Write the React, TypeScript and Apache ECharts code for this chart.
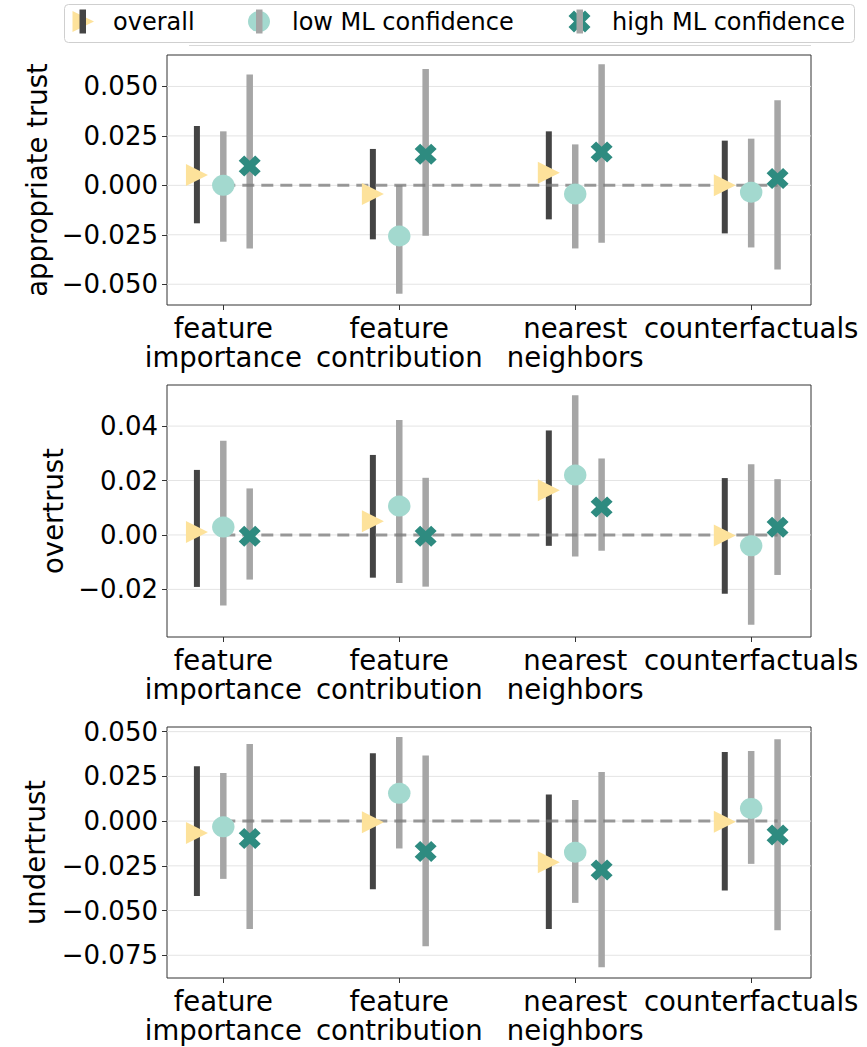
import React, { useEffect, useRef } from "react";
import * as echarts from "echarts";

// ---------- data ----------
const categories = ["feature\nimportance", "feature\ncontribution", "nearest\nneighbors", "counterfactuals"];
const seriesNames = ["overall", "low ML confidence", "high ML confidence"];
const panelNames = ["appropriate trust", "overtrust", "undertrust"];
const groupOffsets = [-0.15, 0, 0.15];
const zeroLineSpan = [0, 3.15];

const apTicks = [-0.05, -0.025, 0, 0.025, 0.05];
const overTicks = [-0.02, 0, 0.02, 0.04];
const underTicks = [-0.075, -0.05, -0.025, 0, 0.025, 0.05];

// appropriate trust
const apOverallMean = [0.0052, -0.0044, 0.0064, 0.0];
const apOverallLo = [-0.0192, -0.0273, -0.0172, -0.0243];
const apOverallHi = [0.03, 0.0184, 0.0273, 0.0226];
const apLowMean = [0.0, -0.0256, -0.0044, -0.0035];
const apLowLo = [-0.0285, -0.0548, -0.0319, -0.0314];
const apLowHi = [0.0273, 0.0, 0.0207, 0.0236];
const apHighMean = [0.0098, 0.0157, 0.0169, 0.0035];
const apHighLo = [-0.0319, -0.0255, -0.029, -0.0425];
const apHighHi = [0.056, 0.0588, 0.0612, 0.043];

// overtrust
const ovOverallMean = [0.0011, 0.005, 0.0164, -0.0002];
const ovOverallLo = [-0.0191, -0.0157, -0.004, -0.0216];
const ovOverallHi = [0.0239, 0.0294, 0.0384, 0.0209];
const ovLowMean = [0.0029, 0.0106, 0.022, -0.004];
const ovLowLo = [-0.0259, -0.0177, -0.0079, -0.033];
const ovLowHi = [0.0346, 0.0422, 0.0513, 0.026];
const ovHighMean = [-0.0005, -0.0005, 0.0103, 0.0028];
const ovHighLo = [-0.0164, -0.019, -0.0058, -0.0147];
const ovHighHi = [0.0171, 0.021, 0.0281, 0.0205];

// undertrust
const unOverallMean = [-0.0067, -0.0007, -0.023, -0.0004];
const unOverallLo = [-0.0418, -0.0381, -0.0603, -0.0388];
const unOverallHi = [0.0306, 0.0379, 0.0149, 0.0386];
const unLowMean = [-0.0032, 0.0155, -0.0174, 0.0071];
const unLowLo = [-0.0323, -0.0153, -0.0457, -0.0239];
const unLowHi = [0.0269, 0.047, 0.0118, 0.0392];
const unHighMean = [-0.0097, -0.017, -0.0274, -0.0077];
const unHighLo = [-0.0603, -0.07, -0.0817, -0.061];
const unHighHi = [0.0431, 0.0366, 0.0274, 0.0457];

// ---------- styles ----------
const FONT = '"DejaVu Sans", sans-serif';
const barColors = ["#444444", "#a6a6a6", "#a6a6a6"];
const barWidths = [6, 6.5, 6.5];
const markerColors = ["#fde29b", "#a3d9cf", "#2e8b80"];
const TRI = "path://M0 0 L2 1 L0 2 Z";
const XPATH =
  "path://M2121 0 L2828 707 L2121 1414 L2828 2121 L2121 2828 L1414 2121 L707 2828 L0 2121 L707 1414 L0 707 L707 0 L1414 707 Z";
const markerSymbols = [TRI, "circle", XPATH];
const markerSizes: any[] = [[22, 22], [22.5, 21], [22, 21]];

const panels = [
  {
    name: panelNames[0], ticks: apTicks, min: -0.0605, max: 0.0659, top: 55, height: 250, digits: 3, gap: 116,
    groups: [[apOverallMean, apOverallLo, apOverallHi], [apLowMean, apLowLo, apLowHi], [apHighMean, apHighLo, apHighHi]],
  },
  {
    name: panelNames[1], ticks: overTicks, min: -0.0375, max: 0.0551, top: 385, height: 252, digits: 2, gap: 98,
    groups: [[ovOverallMean, ovOverallLo, ovOverallHi], [ovLowMean, ovLowLo, ovLowHi], [ovHighMean, ovHighLo, ovHighHi]],
  },
  {
    name: panelNames[2], ticks: underTicks, min: -0.0877, max: 0.0526, top: 727, height: 251, digits: 3, gap: 118,
    groups: [[unOverallMean, unOverallLo, unOverallHi], [unLowMean, unLowLo, unLowHi], [unHighMean, unHighLo, unHighHi]],
  },
];

function fmt(v: number, d: number) {
  const s = Math.abs(v).toFixed(d);
  return v < -1e-9 ? "\u2212" + s : s;
}

function xPolygon(cx: number, cy: number, size: number) {
  const raw = [
    [2121, 0], [2828, 707], [2121, 1414], [2828, 2121], [2121, 2828], [1414, 2121],
    [707, 2828], [0, 2121], [707, 1414], [0, 707], [707, 0], [1414, 707],
  ];
  const k = size / 2828;
  return raw.map(([x, y]) => [cx - size / 2 + x * k, cy - size / 2 + y * k]);
}

function buildOption() {
  const grid: any[] = [];
  const xAxis: any[] = [];
  const yAxis: any[] = [];
  const series: any[] = [];
  const catTicks = categories.map((_, i) => i);

  panels.forEach((p, i) => {
    grid.push({ left: 167, top: p.top, width: 644, height: p.height, show: true, borderColor: "#333", borderWidth: 1, backgroundColor: "transparent" });
    xAxis.push({
      type: "value", gridIndex: i, min: -0.32, max: 3.34,
      splitLine: { show: false }, axisLine: { show: false, onZero: false },
      axisTick: { show: true, customValues: catTicks, length: 5, lineStyle: { color: "#333" } },
      axisLabel: {
        customValues: catTicks, formatter: (v: number) => categories[Math.round(v)],
        fontSize: 27.5, lineHeight: 29, color: "#000", fontFamily: FONT, margin: 8,
      },
    });
    yAxis.push({
      type: "value", gridIndex: i, min: p.min, max: p.max,
      splitLine: { show: false }, axisLine: { show: false, onZero: false },
      axisTick: { show: true, customValues: p.ticks, length: 5, lineStyle: { color: "#333" } },
      axisLabel: {
        customValues: p.ticks, formatter: (v: number) => fmt(v, p.digits),
        fontSize: 26, color: "#000", fontFamily: FONT, margin: 9,
      },
      name: p.name, nameLocation: "middle", nameGap: p.gap, nameRotate: 90,
      nameTextStyle: { fontSize: 27.5, color: "#000", fontFamily: FONT },
    });

    // gridlines
    series.push({
      type: "custom", xAxisIndex: i, yAxisIndex: i, z: 1, silent: true,
      data: p.ticks.map((v) => [0, v]),
      encode: { x: 0, y: 1 },
      renderItem: (params: any, api: any) => {
        const cs = params.coordSys;
        const y = api.coord([0, api.value(1)])[1];
        return {
          type: "line",
          shape: { x1: cs.x, y1: y, x2: cs.x + cs.width, y2: y },
          style: { stroke: "#e4e4e4", lineWidth: 1 },
        };
      },
    });

    p.groups.forEach((g, s) => {
      const [mean, lo, hi] = g;
      series.push({
        type: "custom", name: seriesNames[s], xAxisIndex: i, yAxisIndex: i, z: 2, silent: true,
        data: categories.map((_, j) => [j + groupOffsets[s], lo[j], hi[j]]),
        encode: { x: 0, y: [1, 2] },
        renderItem: (params: any, api: any) => {
          const x = api.value(0);
          const a = api.coord([x, api.value(1)]);
          const b = api.coord([x, api.value(2)]);
          return {
            type: "line",
            shape: { x1: a[0], y1: a[1], x2: b[0], y2: b[1] },
            style: { stroke: barColors[s], lineWidth: barWidths[s], lineCap: "butt" },
          };
        },
      });
    });

    series.push({
      type: "line", xAxisIndex: i, yAxisIndex: i, z: 3, silent: true,
      data: [[zeroLineSpan[0], 0], [zeroLineSpan[1], 0]],
      symbol: "none",
      lineStyle: { color: "#7a7a7a", opacity: 0.75, width: 3, type: [12, 7] },
    });

    p.groups.forEach((g, s) => {
      const [mean] = g;
      series.push({
        type: "scatter", name: seriesNames[s], xAxisIndex: i, yAxisIndex: i, z: 4, silent: true,
        data: mean.map((m, j) => [j + groupOffsets[s], m]),
        symbol: markerSymbols[s], symbolSize: markerSizes[s],
        itemStyle: { color: markerColors[s], opacity: 1 },
      });
    });
  });

  const legendY = 21.5;
  const graphic: any[] = [
    { type: "line", shape: { x1: 189, y1: 45.5, x2: 811, y2: 45.5 }, style: { stroke: "#d8d8d8", lineWidth: 1 }, z: 10 },
    { type: "rect", shape: { x: 64.5, y: 4.5, width: 790, height: 38, r: 4 }, style: { fill: "#fff", stroke: "#cfcfcf", lineWidth: 1 }, z: 10 },
    // overall
    { type: "polygon", shape: { points: [[72.5, legendY - 10.5], [94, legendY], [72.5, legendY + 10.5]] }, style: { fill: markerColors[0] }, z: 11 },
    { type: "rect", shape: { x: 79.5, y: 9.5, width: 6.5, height: 24 }, style: { fill: barColors[0] }, z: 12 },
    { type: "text", x: 113, y: legendY, style: { text: seriesNames[0], fill: "#000", font: "24px " + FONT, verticalAlign: "middle", align: "left" }, z: 12 },
    // low
    { type: "ellipse", shape: { cx: 259, cy: legendY, rx: 11, ry: 10.5 }, style: { fill: markerColors[1] }, z: 11 },
    { type: "rect", shape: { x: 256, y: 9.5, width: 6.5, height: 24 }, style: { fill: barColors[1] }, z: 12 },
    { type: "text", x: 292, y: legendY, style: { text: seriesNames[1], fill: "#000", font: "24px " + FONT, verticalAlign: "middle", align: "left" }, z: 12 },
    // high
    { type: "polygon", shape: { points: xPolygon(579.5, legendY, 22) }, style: { fill: markerColors[2] }, z: 11 },
    { type: "rect", shape: { x: 576.5, y: 9.5, width: 6.5, height: 24 }, style: { fill: barColors[2] }, z: 12 },
    { type: "text", x: 612, y: legendY, style: { text: seriesNames[2], fill: "#000", font: "24px " + FONT, verticalAlign: "middle", align: "left" }, z: 12 },
  ];

  return { animation: false, backgroundColor: "#fff", grid, xAxis, yAxis, series, graphic };
}

export default function App() {
  const ref = useRef<HTMLDivElement>(null);
  useEffect(() => {
    document.body.style.margin = "0";
    if (!ref.current) return;
    const chart = echarts.init(ref.current, undefined, { renderer: "svg" });
    chart.setOption(buildOption() as any);
    return () => chart.dispose();
  }, []);
  return <div ref={ref} style={{ width: 867, height: 1047 }} />;
}
